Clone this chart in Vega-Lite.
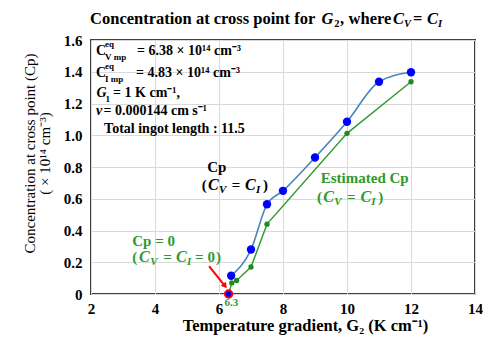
{
  "$schema": "https://vega.github.io/schema/vega-lite/v6.json",
  "width": 384,
  "height": 254,
  "autosize": {"type": "none"},
  "padding": {"left": 91, "top": 40, "right": 15, "bottom": 48},
  "background": "white",
  "config": {
    "view": {"stroke": "#404040", "strokeWidth": 2},
    "font": "Liberation Serif"
  },
  "datasets": {
    "cp": [
      {"x": 6.38, "y": 0.115},
      {"x": 7.0, "y": 0.28},
      {"x": 7.5, "y": 0.565},
      {"x": 8.0, "y": 0.65},
      {"x": 9.0, "y": 0.86},
      {"x": 10.0, "y": 1.085},
      {"x": 11.0, "y": 1.337},
      {"x": 12.0, "y": 1.397}
    ],
    "est": [
      {"x": 6.3, "y": 0.0},
      {"x": 6.4, "y": 0.07},
      {"x": 6.55, "y": 0.085},
      {"x": 7.0, "y": 0.17},
      {"x": 7.5, "y": 0.44},
      {"x": 10.0, "y": 1.012},
      {"x": 12.0, "y": 1.337}
    ],
    "zero": [{"x": 6.3, "y": 0.0}],
    "arrow": [{"x": 5.69, "y": 0.176, "x2": 6.17, "y2": 0.055}],
    "txt": [
      {"x": 1.97, "y": 1.732, "t": "Concentration at cross point for ", "k": "tit", "c": "k"},
      {"x": 9.2, "y": 1.732, "t": "G", "k": "titi", "c": "k"},
      {"x": 9.6, "y": 1.732, "t": "2", "k": "titsub", "c": "k"},
      {"x": 9.78, "y": 1.732, "t": ",", "k": "tit", "c": "k"},
      {"x": 10.05, "y": 1.732, "t": "where", "k": "tit", "c": "k"},
      {"x": 11.44, "y": 1.732, "t": "C", "k": "titi", "c": "k"},
      {"x": 11.78, "y": 1.732, "t": "V", "k": "titsubi", "c": "k"},
      {"x": 12.06, "y": 1.732, "t": "=", "k": "tit", "c": "k"},
      {"x": 12.5, "y": 1.732, "t": "C", "k": "titi", "c": "k"},
      {"x": 12.84, "y": 1.732, "t": "I", "k": "titsubi", "c": "k"},

      {"x": 2.156, "y": 1.531, "t": "C", "k": "leg", "c": "k"},
      {"x": 2.44, "y": 1.531, "t": "eq", "k": "legsup", "c": "k"},
      {"x": 2.44, "y": 1.531, "t": "V mp", "k": "legsub", "c": "k"},
      {"x": 3.44, "y": 1.531, "t": "= 6.38 × 10¹⁴ cm⁻³", "k": "leg", "c": "k"},
      {"x": 2.156, "y": 1.392, "t": "C", "k": "leg", "c": "k"},
      {"x": 2.44, "y": 1.392, "t": "eq", "k": "legsup", "c": "k"},
      {"x": 2.44, "y": 1.392, "t": "I mp", "k": "legsub", "c": "k"},
      {"x": 3.41, "y": 1.392, "t": "= 4.83 × 10¹⁴ cm⁻³", "k": "leg", "c": "k"},
      {"x": 2.17, "y": 1.266, "t": "G", "k": "legi", "c": "k"},
      {"x": 2.45, "y": 1.266, "t": "1", "k": "legsub", "c": "k"},
      {"x": 2.69, "y": 1.266, "t": "= 1 K cm⁻¹,", "k": "leg", "c": "k"},
      {"x": 2.156, "y": 1.153, "t": "v", "k": "legi", "c": "k"},
      {"x": 2.39, "y": 1.153, "t": "= 0.000144 cm s⁻¹", "k": "leg", "c": "k"},
      {"x": 2.41, "y": 1.039, "t": "Total ingot length : 11.5", "k": "leg", "c": "k"},

      {"x": 5.63, "y": 0.8, "t": "Cp", "k": "lab", "c": "k"},
      {"x": 5.46, "y": 0.687, "t": "(", "k": "lab", "c": "k"},
      {"x": 5.66, "y": 0.687, "t": "C", "k": "labi", "c": "k"},
      {"x": 6.0, "y": 0.687, "t": "V", "k": "labsub", "c": "k"},
      {"x": 6.4, "y": 0.687, "t": "=", "k": "lab", "c": "k"},
      {"x": 6.81, "y": 0.687, "t": "C", "k": "labi", "c": "k"},
      {"x": 7.16, "y": 0.687, "t": "I", "k": "labsub", "c": "k"},
      {"x": 7.375, "y": 0.687, "t": ")", "k": "lab", "c": "k"},

      {"x": 9.18, "y": 0.733, "t": "Estimated Cp", "k": "lab", "c": "g"},
      {"x": 9.06, "y": 0.613, "t": "(", "k": "lab", "c": "g"},
      {"x": 9.26, "y": 0.613, "t": "C", "k": "labi", "c": "g"},
      {"x": 9.6, "y": 0.613, "t": "V", "k": "labsub", "c": "g"},
      {"x": 10.0, "y": 0.613, "t": "=", "k": "lab", "c": "g"},
      {"x": 10.42, "y": 0.613, "t": "C", "k": "labi", "c": "g"},
      {"x": 10.76, "y": 0.613, "t": "I", "k": "labsub", "c": "g"},
      {"x": 10.98, "y": 0.613, "t": ")", "k": "lab", "c": "g"},

      {"x": 3.29, "y": 0.334, "t": "Cp = 0", "k": "lab", "c": "g"},
      {"x": 3.29, "y": 0.231, "t": "(", "k": "lab", "c": "g"},
      {"x": 3.5, "y": 0.231, "t": "C", "k": "labi", "c": "g"},
      {"x": 3.85, "y": 0.231, "t": "V", "k": "labsub", "c": "g"},
      {"x": 4.26, "y": 0.231, "t": "=", "k": "lab", "c": "g"},
      {"x": 4.66, "y": 0.231, "t": "C", "k": "labi", "c": "g"},
      {"x": 5.0, "y": 0.231, "t": "I", "k": "labsub", "c": "g"},
      {"x": 5.25, "y": 0.231, "t": "=", "k": "lab", "c": "g"},
      {"x": 5.64, "y": 0.231, "t": "0", "k": "lab", "c": "g"},
      {"x": 5.91, "y": 0.231, "t": ")", "k": "lab", "c": "g"},

      {"x": 6.39, "y": -0.057, "t": "6.3", "k": "small", "c": "g"}
    ]
  },
  "encoding": {
    "x": {
      "field": "x", "type": "quantitative",
      "scale": {"domain": [2, 14], "nice": false, "zero": false},
      "axis": {
        "values": [2, 4, 6, 8, 10, 12, 14],
        "grid": true, "gridColor": "#d9d9d9", "gridWidth": 1,
        "ticks": false, "domain": false,
        "labelFont": "Liberation Serif", "labelFontSize": 15, "labelFontWeight": "bold", "labelColor": "black",
        "labelPadding": 7, "labelFlush": false,
        "title": "Temperature gradient, G₂ (K cm⁻¹)",
        "titleFont": "Liberation Serif", "titleFontSize": 16.5, "titleFontWeight": "bold", "titleColor": "black",
        "titleX": 214, "titleY": 31, "titleBaseline": "middle"
      }
    },
    "y": {
      "field": "y", "type": "quantitative",
      "scale": {"domain": [0, 1.6], "nice": false, "zero": false},
      "axis": {
        "values": [0, 0.2, 0.4, 0.6, 0.8, 1.0, 1.2, 1.4, 1.6],
        "labelExpr": "datum.value == 0 ? '0' : format(datum.value, '.1f')",
        "grid": true, "gridColor": "#d9d9d9", "gridWidth": 1,
        "ticks": false, "domain": false,
        "labelFont": "Liberation Serif", "labelFontSize": 15, "labelFontWeight": "bold", "labelColor": "black",
        "labelPadding": 9, "labelFlush": false,
        "title": ["Concentration at cross point (Cp)", "( × 10¹⁴ cm⁻³)"],
        "titleFont": "Liberation Serif", "titleFontSize": 15, "titleFontWeight": "normal", "titleColor": "black",
        "titleLineHeight": 15, "titleAngle": -90, "titleBaseline": "middle",
        "titleX": -62, "titleY": 113
      }
    }
  },
  "layer": [
    {"data": {"name": "cp"}, "mark": {"type": "line", "color": "#4a86b8", "strokeWidth": 1.6, "interpolate": "monotone"}},
    {"data": {"name": "est"}, "mark": {"type": "line", "color": "#2e9a2e", "strokeWidth": 1.4}},
    {"data": {"name": "est"}, "mark": {"type": "point", "filled": true, "color": "#1f8a1f", "size": 28, "opacity": 1}},
    {"data": {"name": "cp"}, "mark": {"type": "point", "filled": true, "color": "#0000ff", "size": 70, "opacity": 1}},
    {"data": {"name": "zero"}, "mark": {"type": "point", "filled": true, "fill": "#0000ff", "stroke": "#ff0000", "strokeWidth": 2, "size": 55, "opacity": 1}},
    {"data": {"name": "arrow"}, "mark": {"type": "rule", "color": "#ff0000", "strokeWidth": 2},
     "encoding": {"x2": {"field": "x2"}, "y2": {"field": "y2"}}},
    {"data": {"name": "arrow"}, "mark": {"type": "point", "shape": "triangle", "filled": true, "color": "#ff0000", "size": 45, "angle": 141.5, "opacity": 1},
     "encoding": {"x": {"field": "x2", "type": "quantitative"}, "y": {"field": "y2", "type": "quantitative"}}},
    {"data": {"name": "txt"}, "transform": [{"filter": "datum.k == 'tit'"}],
     "mark": {"type": "text", "align": "left", "baseline": "middle", "font": "Liberation Serif", "fontSize": 16.5, "fontWeight": "bold", "color": "black"},
     "encoding": {"text": {"field": "t"}}},
    {"data": {"name": "txt"}, "transform": [{"filter": "datum.k == 'titi'"}],
     "mark": {"type": "text", "align": "left", "baseline": "middle", "font": "Liberation Serif", "fontSize": 16.5, "fontWeight": "bold", "fontStyle": "italic", "color": "black"},
     "encoding": {"text": {"field": "t"}}},
    {"data": {"name": "txt"}, "transform": [{"filter": "datum.k == 'titsub'"}],
     "mark": {"type": "text", "align": "left", "baseline": "middle", "font": "Liberation Serif", "fontSize": 10.5, "fontWeight": "bold", "dy": 5, "color": "black"},
     "encoding": {"text": {"field": "t"}}},
    {"data": {"name": "txt"}, "transform": [{"filter": "datum.k == 'titsubi'"}],
     "mark": {"type": "text", "align": "left", "baseline": "middle", "font": "Liberation Serif", "fontSize": 10.5, "fontWeight": "bold", "fontStyle": "italic", "dy": 5, "color": "black"},
     "encoding": {"text": {"field": "t"}}},
    {"data": {"name": "txt"}, "transform": [{"filter": "datum.k == 'leg'"}],
     "mark": {"type": "text", "align": "left", "baseline": "middle", "font": "Liberation Serif", "fontSize": 14, "fontWeight": "bold", "color": "black"},
     "encoding": {"text": {"field": "t"}}},
    {"data": {"name": "txt"}, "transform": [{"filter": "datum.k == 'legi'"}],
     "mark": {"type": "text", "align": "left", "baseline": "middle", "font": "Liberation Serif", "fontSize": 14, "fontWeight": "bold", "fontStyle": "italic", "color": "black"},
     "encoding": {"text": {"field": "t"}}},
    {"data": {"name": "txt"}, "transform": [{"filter": "datum.k == 'legsup'"}],
     "mark": {"type": "text", "align": "left", "baseline": "middle", "font": "Liberation Serif", "fontSize": 9, "fontWeight": "bold", "dy": -7, "color": "black"},
     "encoding": {"text": {"field": "t"}}},
    {"data": {"name": "txt"}, "transform": [{"filter": "datum.k == 'legsub'"}],
     "mark": {"type": "text", "align": "left", "baseline": "middle", "font": "Liberation Serif", "fontSize": 9, "fontWeight": "bold", "dy": 6, "color": "black"},
     "encoding": {"text": {"field": "t"}}},
    {"data": {"name": "txt"}, "transform": [{"filter": "datum.k == 'lab'"}],
     "mark": {"type": "text", "align": "left", "baseline": "middle", "font": "Liberation Serif", "fontSize": 15, "fontWeight": "bold"},
     "encoding": {"text": {"field": "t"}, "color": {"field": "c", "type": "nominal", "scale": {"domain": ["k", "g"], "range": ["black", "#2e9a2e"]}, "legend": null}}},
    {"data": {"name": "txt"}, "transform": [{"filter": "datum.k == 'labi'"}],
     "mark": {"type": "text", "align": "left", "baseline": "middle", "font": "Liberation Serif", "fontSize": 16, "fontWeight": "bold", "fontStyle": "italic"},
     "encoding": {"text": {"field": "t"}, "color": {"field": "c", "type": "nominal", "scale": {"domain": ["k", "g"], "range": ["black", "#2e9a2e"]}, "legend": null}}},
    {"data": {"name": "txt"}, "transform": [{"filter": "datum.k == 'labsub'"}],
     "mark": {"type": "text", "align": "left", "baseline": "middle", "font": "Liberation Serif", "fontSize": 11, "fontWeight": "bold", "fontStyle": "italic", "dy": 5},
     "encoding": {"text": {"field": "t"}, "color": {"field": "c", "type": "nominal", "scale": {"domain": ["k", "g"], "range": ["black", "#2e9a2e"]}, "legend": null}}},
    {"data": {"name": "txt"}, "transform": [{"filter": "datum.k == 'small'"}],
     "mark": {"type": "text", "align": "center", "baseline": "middle", "font": "Liberation Serif", "fontSize": 11, "fontWeight": "bold", "color": "#2e9a2e"},
     "encoding": {"text": {"field": "t"}}}
  ]
}
